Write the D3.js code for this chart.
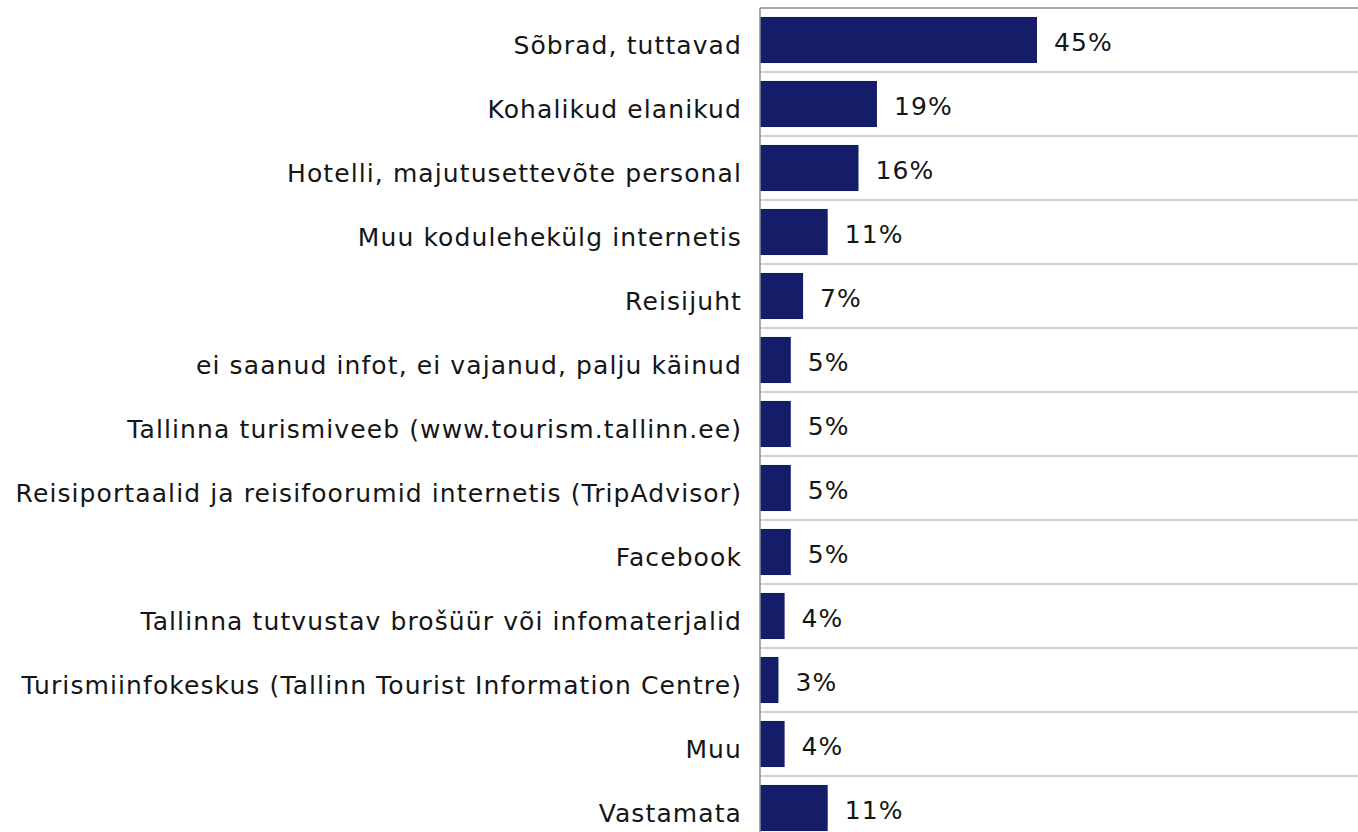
<!DOCTYPE html>
<html>
<head>
<meta charset="utf-8">
<script src="https://cdn.jsdelivr.net/npm/d3@7"></script>
<style>
	body { margin: 0; background: #fff; }
	text { font-family: "DejaVu Sans", Verdana, sans-serif; }
</style>
</head>
<body>
<svg class="chart" width="1358" height="832"></svg>
<script>
var categories = [
	"Sõbrad, tuttavad",
	"Kohalikud elanikud",
	"Hotelli, majutusettevõte personal",
	"Muu kodulehekülg internetis",
	"Reisijuht",
	"ei saanud infot, ei vajanud, palju käinud",
	"Tallinna turismiveeb (www.tourism.tallinn.ee)",
	"Reisiportaalid ja reisifoorumid internetis (TripAdvisor)",
	"Facebook",
	"Tallinna tutvustav brošüür või infomaterjalid",
	"Turismiinfokeskus (Tallinn Tourist Information Centre)",
	"Muu",
	"Vastamata"
];
var values = [45, 19, 16, 11, 7, 5, 5, 5, 5, 4, 3, 4, 11];

var svg = d3.select(".chart");
var plotLeft = 760, plotTop = 8; // "top" is taken by window.top

var yScale = d3.scaleBand()
	.domain(categories)
	.range([plotTop, plotTop + categories.length * 64])
	.paddingInner(0.28)
	.paddingOuter(0.14);

var xScale = d3.scaleLinear()
	.domain([0, 45])
	.range([plotLeft, 1037]);

// gridlines between rows
var step = yScale.step();
svg.append("g").selectAll("line")
	.data(categories.slice(1))
	.enter().append("line")
	.attr("x1", plotLeft).attr("x2", 1358)
	.attr("y1", function(d) { return yScale(d) - yScale.paddingInner() * step / 2; })
	.attr("y2", function(d) { return yScale(d) - yScale.paddingInner() * step / 2; })
	.attr("stroke", "#c0c0c0")
	.attr("stroke-width", 1.5);

// top border
svg.append("line")
	.attr("x1", plotLeft).attr("x2", 1358)
	.attr("y1", plotTop).attr("y2", plotTop)
	.attr("stroke", "#8c8c8c")
	.attr("stroke-width", 1.5);

svg.selectAll(".bar")
	.data(values)
	.enter().append("rect")
	.attr("class", "bar")
	.attr("x", xScale(0))
	.attr("y", function(d, i) { return yScale(categories[i]); })
	.attr("width", function(d) { return xScale(d) - xScale(0); })
	.attr("height", yScale.bandwidth())
	.attr("fill", "#151c68");

// y axis line
svg.append("line")
	.attr("x1", plotLeft).attr("x2", plotLeft)
	.attr("y1", plotTop).attr("y2", 832)
	.attr("stroke", "#8c8c8c")
	.attr("stroke-width", 1.5);

// category labels
svg.selectAll(".catLabel")
	.data(categories)
	.enter().append("text")
	.attr("class", "catLabel")
	.attr("x", plotLeft - 18)
	.attr("y", function(d) { return yScale(d) + yScale.bandwidth() / 2 + 14; })
	.attr("text-anchor", "end")
	.attr("font-size", 25)
	.attr("letter-spacing", 1.1)
	.attr("fill", "#151515")
	.text(function(d) { return d; });

// value labels
svg.selectAll(".valLabel")
	.data(values)
	.enter().append("text")
	.attr("class", "valLabel")
	.attr("x", function(d) { return xScale(d) + 17; })
	.attr("y", function(d, i) { return yScale(categories[i]) + yScale.bandwidth() / 2 + 11; })
	.attr("font-size", 25)
	.attr("letter-spacing", 1.1)
	.attr("fill", "#151515")
	.text(function(d) { return d + "%"; });
</script>
</body>
</html>
